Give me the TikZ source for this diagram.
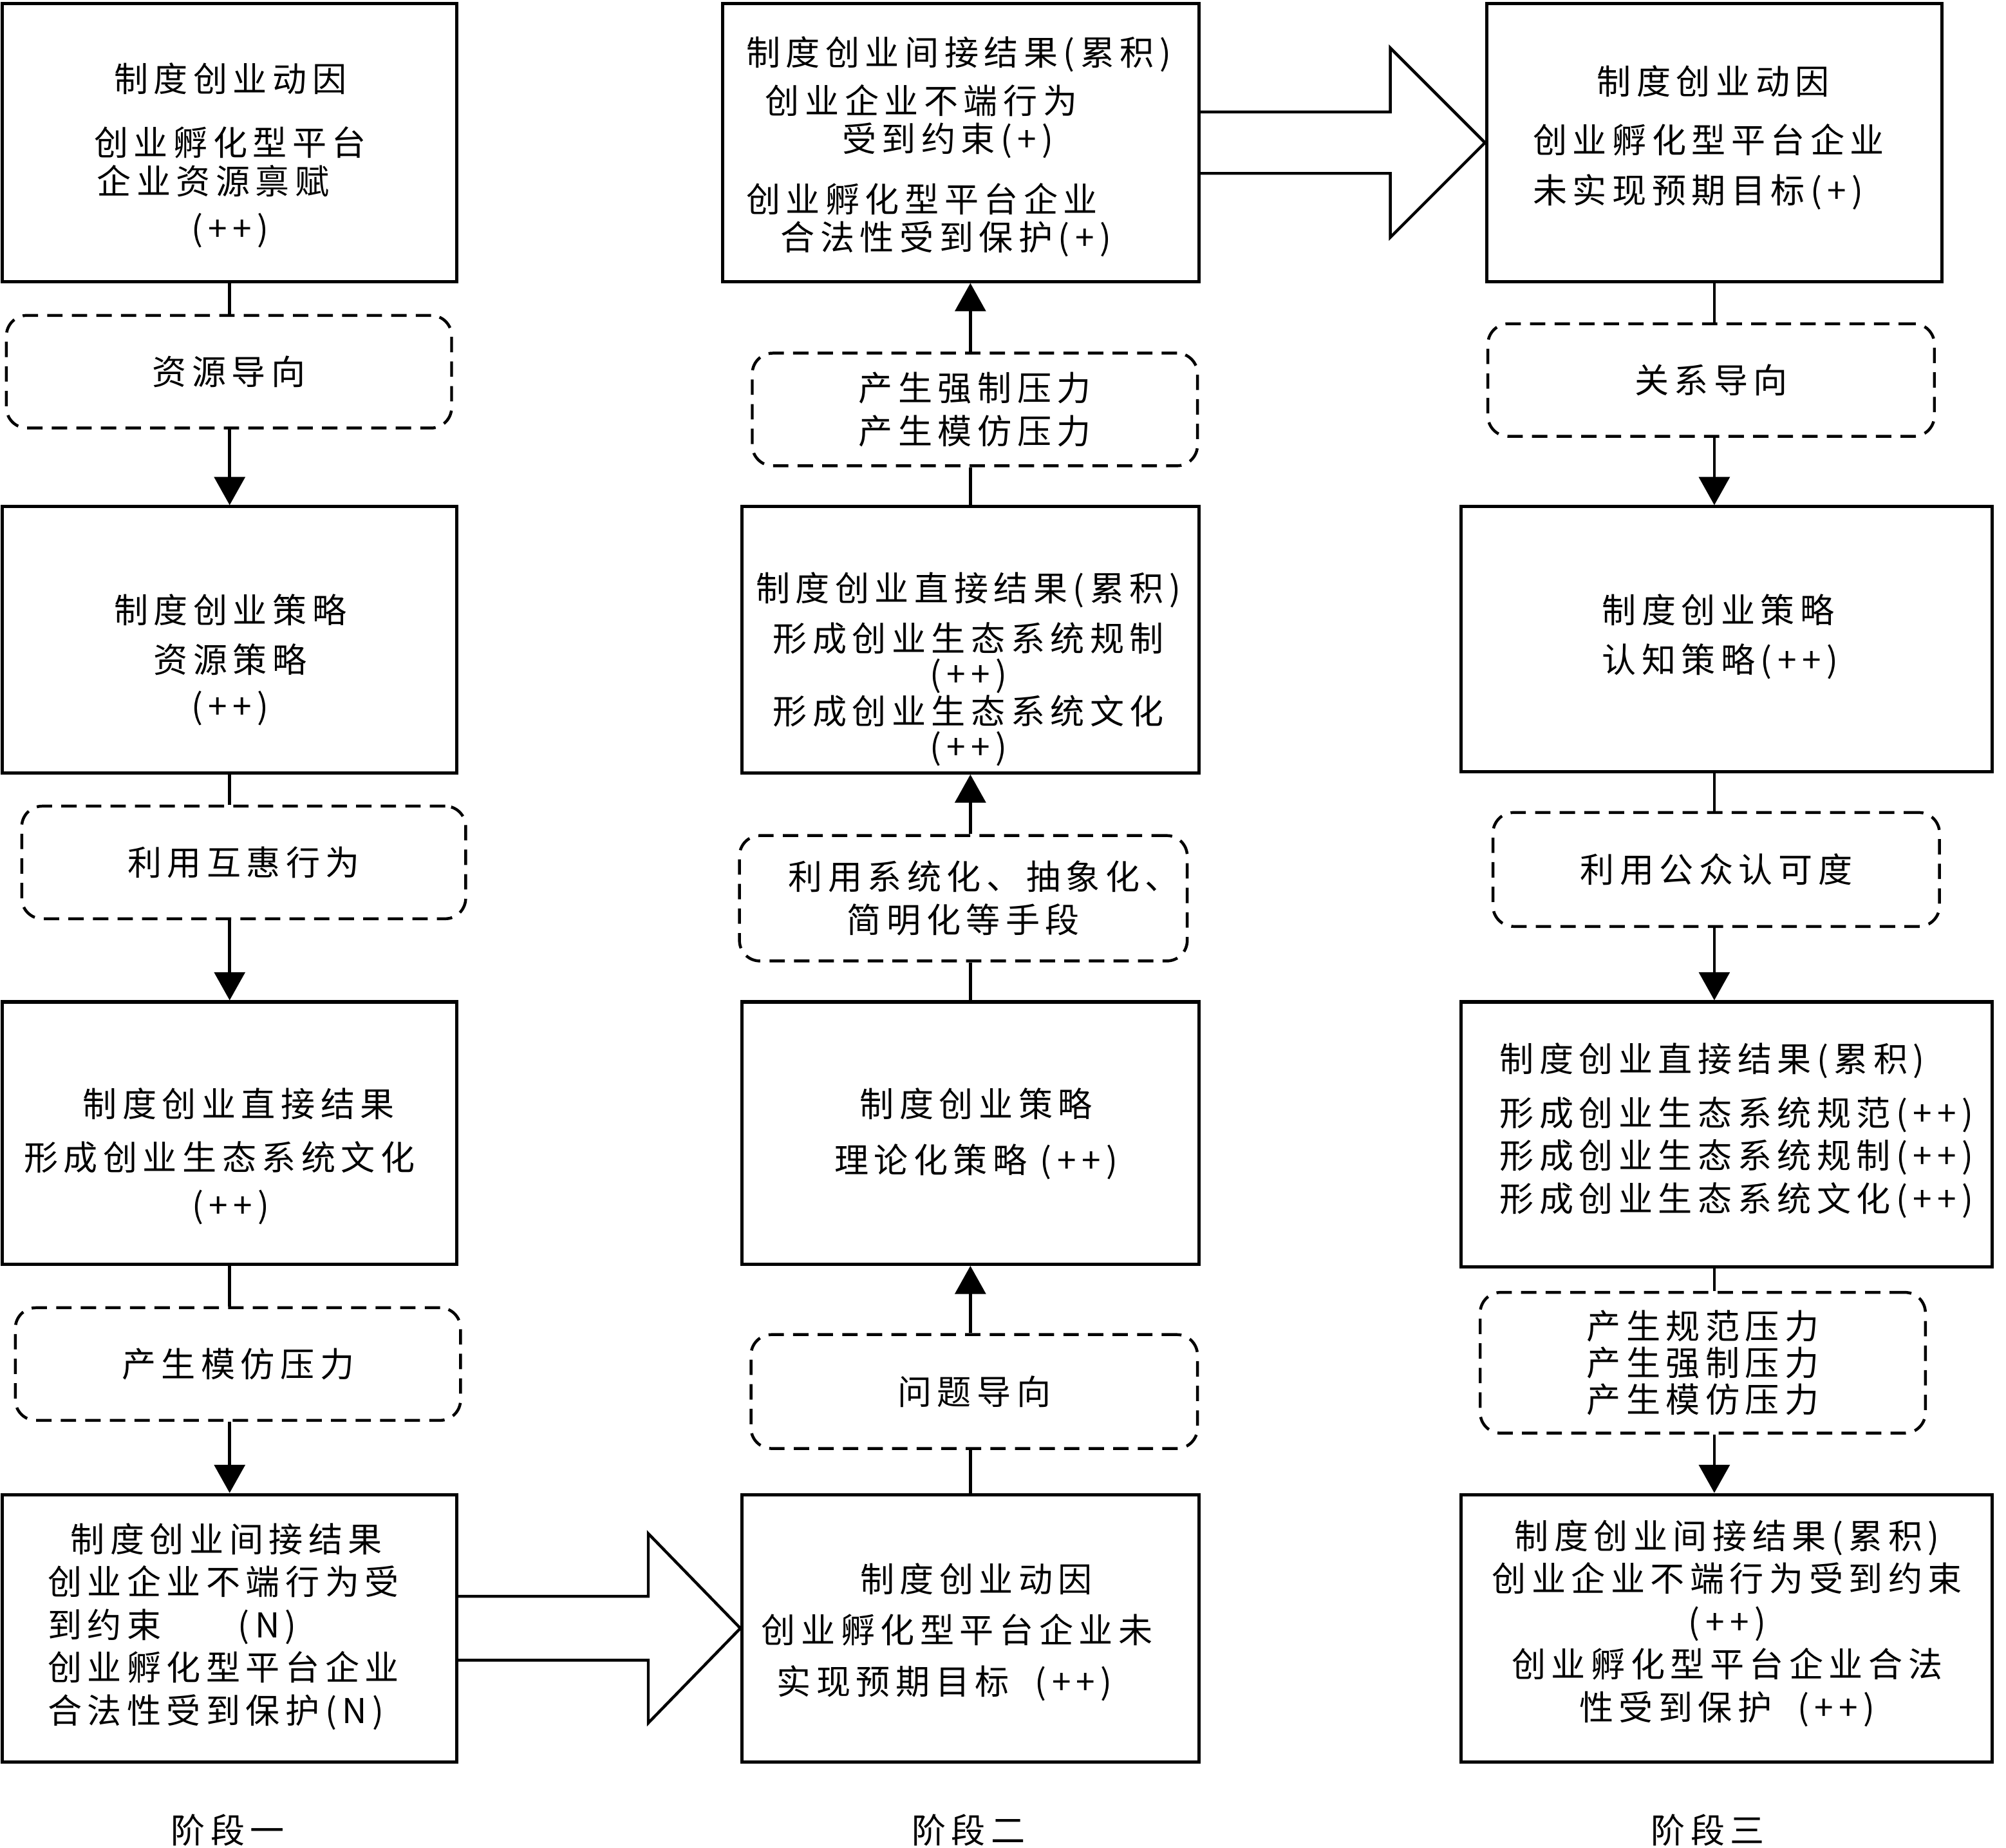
\documentclass[tikz,border=0pt]{standalone}
\usepackage{fontspec}
\setmainfont{Noto Sans CJK SC}[LetterSpace=16]
\usepackage{tikz}
\usetikzlibrary{arrows.meta, calc}

\begin{document}
\begin{tikzpicture}[x=0.025cm, y=-0.025cm,
	box/.style={draw, line width=1.8pt, inner sep=0pt},
	guide/.style={draw, line width=1.6pt, dash pattern=on 0.3cm off 0.18cm, rounded corners=0.4cm, inner sep=0pt, align=center, font=\fontsize{19pt}{23.8pt}\selectfont},
	txt/.style={inner sep=0pt, align=center, font=\fontsize{19pt}{23.8pt}\selectfont},
	link/.style={line width=1.6pt},
	flow/.style={line width=1.6pt, -{Triangle[length=0.55cm, width=0.6cm]}},
	hollow/.style={line width=1.6pt, line join=miter}]

	% Dimensions
	\def\pxl{0.025cm}

	\useasboundingbox (0,0) rectangle (1568,1444);

	% Stage one
	\node[box, minimum width=355*\pxl, minimum height=217*\pxl] (A1) at (179.5,111.5) {};
	\node[txt] at (180,121.5) {制度创业动因\\[0.41cm]创业孵化型平台\\[-0.09cm]企业资源禀赋\hphantom{台}\\[0.09cm](++)};
	\node[guide, minimum width=348*\pxl, minimum height=88*\pxl] (D1) at (179,290.5) {资源导向};
	\node[box, minimum width=355*\pxl, minimum height=208*\pxl] (A2) at (179.5,500) {};
	\node[txt] at (180,515.5) {制度创业策略\\[0.14cm]资源策略\\[0.06cm](++)};
	\node[guide, minimum width=347*\pxl, minimum height=88*\pxl] (D2) at (190.5,674) {利用互惠行为};
	\node[box, minimum width=355*\pxl, minimum height=205*\pxl] (A3) at (179.5,885.5) {};
	\node[txt] at (171.5,903.5) {\hspace*{0.75cm}制度创业直接结果\\[0.21cm]形成创业生态系统文化\\[0.09cm]\hspace*{0.45cm}(++)};
	\node[guide, minimum width=348*\pxl, minimum height=88*\pxl] (D3) at (186,1066) {产生模仿压力};
	\node[box, minimum width=355*\pxl, minimum height=209*\pxl] (A4) at (179.5,1272.5) {};
	\node[txt, align=left, anchor=west] at (37,1271) {\hspace*{0.45cm}制度创业间接结果\\创业企业不端行为受\\到约束\hspace{1.5cm}(N)\\创业孵化型平台企业\\合法性受到保护(N)};
	\node[txt] (S1) at (178,1430) {阶段一};

	% Stage two
	\node[box, minimum width=372*\pxl, minimum height=217*\pxl] (B1) at (751,111.5) {};
	\node[txt, align=left, anchor=west] at (583,114.5) {制度创业间接结果(累积)\\[0.11cm]\hspace*{0.375cm}创业企业不端行为\\[-0.09cm]\hspace*{1.875cm}受到约束(+)\\[0.34cm]创业孵化型平台企业\\[-0.09cm]\hspace*{0.675cm}合法性受到保护(+)};
	\node[guide, minimum width=348*\pxl, minimum height=88*\pxl] (E3) at (762,320) {产生强制压力\\产生模仿压力};
	\node[box, minimum width=357*\pxl, minimum height=208*\pxl] (B2) at (758.5,500) {};
	\node[txt] at (757,523) {制度创业直接结果(累积)\\[0.14cm]形成创业生态系统规制\\[-0.14cm](++)\\[-0.11cm]形成创业生态系统文化\\[-0.14cm](++)};
	\node[guide, minimum width=350*\pxl, minimum height=98*\pxl] (E2) at (753,702) {\hspace*{0.8cm}利用系统化、抽象化、\\简明化等手段};
	\node[box, minimum width=357*\pxl, minimum height=205*\pxl] (B3) at (758.5,885.5) {};
	\node[txt] at (763,886) {制度创业策略\\[0.26cm]理论化策略 (++)};
	\node[guide, minimum width=349*\pxl, minimum height=89*\pxl] (E1) at (761.5,1087.5) {问题导向};
	\node[box, minimum width=357*\pxl, minimum height=209*\pxl] (B4) at (758.5,1272.5) {};
	\node[txt, align=left, anchor=west] at (595,1275.5) {\hspace*{1.925cm}制度创业动因\\[0.16cm]创业孵化型平台企业未\\[0.16cm]\hspace*{0.3cm}实现预期目标\hspace{0.5cm}(++)};
	\node[txt] (S2) at (757,1430) {阶段二};

	% Stage three
	\node[box, minimum width=356*\pxl, minimum height=217*\pxl] (C1) at (1340,111.5) {};
	\node[txt, align=left, anchor=west] at (1198,107.5) {\hspace*{1.25cm}制度创业动因\\[0.31cm]创业孵化型平台企业\\[0.14cm]未实现预期目标(+)};
	\node[guide, minimum width=349*\pxl, minimum height=88*\pxl] (F1) at (1337.5,297) {关系导向};
	\node[box, minimum width=415*\pxl, minimum height=207*\pxl] (C2) at (1349.5,499.5) {};
	\node[txt, align=left, anchor=west] at (1252,497.5) {制度创业策略\\[0.14cm]认知策略(++)};
	\node[guide, minimum width=349*\pxl, minimum height=89*\pxl] (F2) at (1341.5,679.5) {利用公众认可度};
	\node[box, minimum width=415*\pxl, minimum height=207*\pxl] (C3) at (1349.5,886.5) {};
	\node[txt, align=left, anchor=west] at (1172,883.5) {制度创业直接结果(累积)\\[0.21cm]形成创业生态系统规范(++)\\形成创业生态系统规制(++)\\形成创业生态系统文化(++)};
	\node[guide, minimum width=348*\pxl, minimum height=110*\pxl] (F3) at (1331,1065) {产生规范压力\\[-0.125cm]产生强制压力\\[-0.125cm]产生模仿压力};
	\node[box, minimum width=415*\pxl, minimum height=209*\pxl] (C4) at (1349.5,1272.5) {};
	\node[txt] at (1350,1268.5) {制度创业间接结果(累积)\\创业企业不端行为受到约束\\(++)\\创业孵化型平台企业合法\\性受到保护\hspace{0.5cm}(++)};
	\node[txt] (S3) at (1335,1430) {阶段三};

	% Links, stage one (downwards)
	\draw[link] (A1.south) -- (A1.south |- D1.north);
	\draw[flow] (D1.south -| A2.north) -- (A2.north);
	\draw[link] (A2.south) -- (A2.south |- D2.north);
	\draw[flow] (D2.south -| A3.north) -- (A3.north);
	\draw[link] (A3.south) -- (A3.south |- D3.north);
	\draw[flow] (D3.south -| A4.north) -- (A4.north);

	% Links, stage two (upwards)
	\draw[link] (B4.north) -- (B4.north |- E1.south);
	\draw[flow] (E1.north -| B3.south) -- (B3.south);
	\draw[link] (B3.north) -- (B3.north |- E2.south);
	\draw[flow] (E2.north -| B2.south) -- (B2.south);
	\draw[link] (B2.north) -- (B2.north |- E3.south);
	\draw[flow] (E3.north -| B2.north) -- (B1.south -| B2.north);

	% Links, stage three (downwards)
	\draw[link] (C1.south) -- (C1.south |- F1.north);
	\draw[flow] (F1.south -| C1.south) -- (C2.north -| C1.south);
	\draw[link] (C2.south -| C1.south) -- (F2.north -| C1.south);
	\draw[flow] (F2.south -| C1.south) -- (C3.north -| C1.south);
	\draw[link] (C3.south -| C1.south) -- (F3.north -| C1.south);
	\draw[flow] (F3.south -| C1.south) -- (C4.north -| C1.south);

	% Hollow arrows between stages
	\draw[hollow] ($(A4.east)+(0,-25)$) -- ($(B4.west)+(-72,-25)$) -- ($(B4.west)+(-72,-74)$) -- (B4.west) -- ($(B4.west)+(-72,74)$) -- ($(B4.west)+(-72,25)$) -- ($(A4.east)+(0,25)$);
	\draw[hollow] ($(B1.east)+(0,-24)$) -- ($(C1.west)+(-74,-24)$) -- ($(C1.west)+(-74,-74)$) -- (C1.west) -- ($(C1.west)+(-74,74)$) -- ($(C1.west)+(-74,24)$) -- ($(B1.east)+(0,24)$);

\end{tikzpicture}
\end{document}
